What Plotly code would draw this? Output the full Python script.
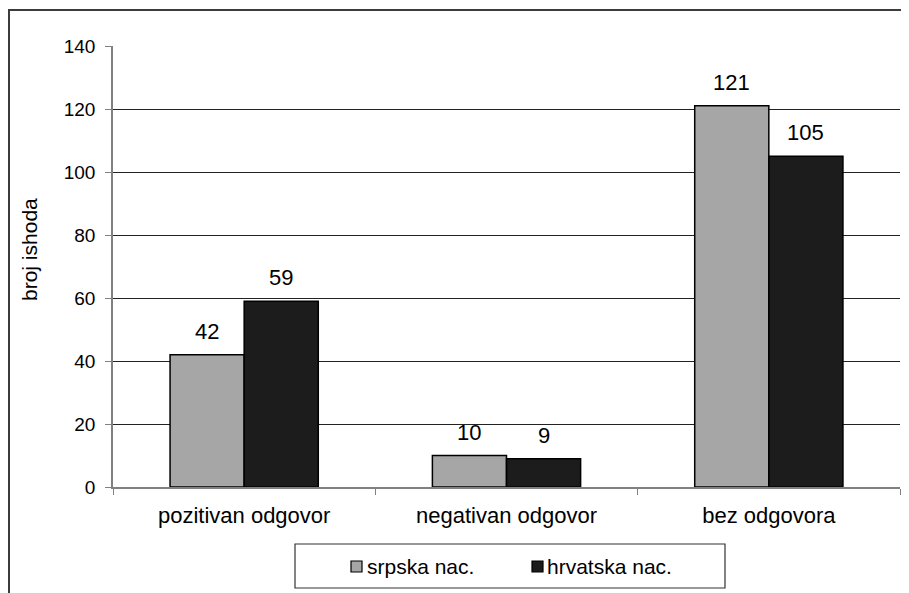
import plotly.graph_objects as go

categories = ["pozitivan odgovor", "negativan odgovor", "bez odgovora"]
srpska = [42, 10, 121]
hrvatska = [59, 9, 105]
series_names = ["srpska nac.", "hrvatska nac."]
y_ticks = [0, 20, 40, 60, 80, 100, 120, 140]

# page has an 8px body margin: figure is drawn at (8, 8) on screen
OFF = 8
W, H = 909 - OFF, 593 - OFF
ML, MR, MT, MB = 113 - OFF, 9, 46 - OFF, 106
BARGAP = 0.435
FONT = "Arial, Liberation Sans, sans-serif"
colors = ["#a6a6a6", "#1c1c1c"]

fig = go.Figure()
for name, vals, col in zip(series_names, [srpska, hrvatska], colors):
    fig.add_trace(go.Bar(
        x=categories, y=vals, name=name, showlegend=False,
        marker=dict(color=col, line=dict(color="#000000", width=1.5)),
    ))

plot_w = W - ML - MR
plot_h = H - MT - MB
def px_x(sx):
    return (sx - OFF - ML) / plot_w
def px_y(sy):
    return (H - MB - (sy - OFF)) / plot_h

# data labels above bars
cat_w = plot_w / len(categories)
bar_w = cat_w * (1 - BARGAP) / 2
for i, vals in enumerate([srpska, hrvatska]):
    shift = (i - 0.5) * bar_w
    for c, v in zip(categories, vals):
        fig.add_annotation(x=c, y=v, text=str(v), showarrow=False,
                           xshift=shift, yshift=9, yanchor="bottom",
                           font=dict(size=22, color="#000000", family=FONT))

# y axis title
fig.add_annotation(x=px_x(30), y=px_y(250), xref="paper", yref="paper",
                   xanchor="center", yanchor="middle",
                   text="broj ishoda", textangle=-90, showarrow=False,
                   font=dict(size=21, color="#000000", family=FONT))

# outer border (partially visible)
fig.add_shape(type="rect", xref="paper", yref="paper",
              x0=px_x(9), x1=px_x(960), y0=px_y(640), y1=px_y(10),
              line=dict(color="#3c3c3c", width=2), layer="below")

# legend (drawn manually)
fig.add_shape(type="rect", xref="paper", yref="paper",
              x0=px_x(295), x1=px_x(725), y0=px_y(588), y1=px_y(544),
              line=dict(color="#333333", width=1.2), fillcolor="white")
leg_sq = [(351, 362), (532, 543)]
leg_tx = [365, 545]
for name, col, (a, b), tx in zip(series_names, colors, leg_sq, leg_tx):
    fig.add_shape(type="rect", xref="paper", yref="paper",
                  x0=px_x(a), x1=px_x(b), y0=px_y(572), y1=px_y(561),
                  line=dict(color="#000000", width=1.2), fillcolor=col)
    fig.add_annotation(x=px_x(tx), y=px_y(566.5), xref="paper", yref="paper",
                       xanchor="left", yanchor="middle", text=name,
                       showarrow=False,
                       font=dict(size=21, color="#000000", family=FONT))

fig.update_layout(
    width=W, height=H,
    margin=dict(l=ML, r=MR, t=MT, b=MB),
    paper_bgcolor="white", plot_bgcolor="white",
    barmode="group", bargap=BARGAP, bargroupgap=0,
    font=dict(family=FONT, color="#000000"),
    showlegend=False,
    xaxis=dict(showline=True, linecolor="#808080", linewidth=1.5,
               ticks="outside", tickson="boundaries", ticklen=6,
               tickcolor="#808080", showgrid=False,
               ticklabelstandoff=8,
               tickfont=dict(size=22, family=FONT, color="#000000")),
    yaxis=dict(range=[0, 140], tickvals=y_ticks, showline=True,
               linecolor="#808080", linewidth=1.5,
               ticks="outside", ticklen=6, tickcolor="#808080",
               showgrid=True, gridcolor="#222222", gridwidth=1,
               zeroline=False, ticklabelstandoff=6,
               tickfont=dict(size=19, family=FONT, color="#000000")),
)

fig.write_html("out.html")
